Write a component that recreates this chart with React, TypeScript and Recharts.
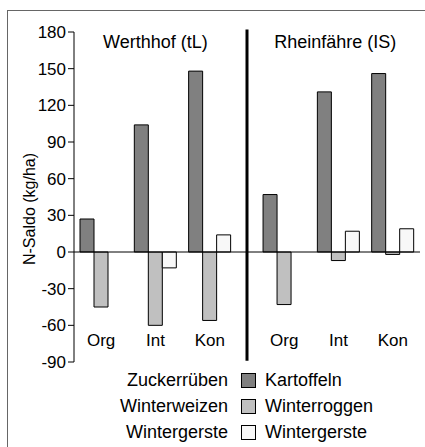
import React from 'react';
import { BarChart, Bar, XAxis, YAxis, ReferenceLine, ReferenceDot, Legend } from 'recharts';

const sites = ['Werthhof (tL)', 'Rheinfähre (IS)'];
const systems = ['Org', 'Int', 'Kon'];
const leftNames = ['Zuckerrüben', 'Winterweizen', 'Wintergerste'];
const rightNames = ['Kartoffeln', 'Winterroggen', 'Wintergerste'];
// values per bar, ordered site by site, then system (Org, Int, Kon)
const hackfrucht = [27, 104, 148, 47, 131, 146];
const winterung = [-45, -60, -56, -43, -7, -2];
const gerste: (number | null)[] = [null, -13, 14, null, 17, 19];
const yTicks = [-90, -60, -30, 0, 30, 60, 90, 120, 150, 180];

const SITE_GAP = 0.37;
const FONT = "'Liberation Sans', Arial, sans-serif";

const data = sites.flatMap((site, s) =>
  systems.map((sys, i) => {
    const k = s * systems.length + i;
    return {
      x: s * (systems.length + SITE_GAP) + i + 0.5,
      label: sys,
      site,
      hack: hackfrucht[k],
      wint: winterung[k],
      gerste: gerste[k],
    };
  })
);
const xMax = sites.length * systems.length + SITE_GAP;
const divider = systems.length + SITE_GAP / 2;

const seriesDefs = [
  { key: 'hack', name: rightNames[0], left: leftNames[0], fill: '#808080' },
  { key: 'wint', name: rightNames[1], left: leftNames[1], fill: '#c0c0c0' },
  { key: 'gerste', name: rightNames[2], left: leftNames[2], fill: '#f8f8f8' },
];

const XTick = (props: any) => {
  const { x, y, payload } = props;
  const row = data.find((d) => Math.abs(d.x - payload.value) < 1e-6);
  return (
    <text x={x} y={y - 16.5} textAnchor="middle" fontSize={17} fill="#000" fontFamily={FONT}>
      {row ? row.label : ''}
    </text>
  );
};

const YLabel = (props: any) => {
  const { viewBox } = props;
  const cx = viewBox.x + 15.5;
  const cy = viewBox.y + viewBox.height / 2 + 12;
  return (
    <text
      x={cx}
      y={cy}
      transform={`rotate(-90 ${cx} ${cy})`}
      textAnchor="middle"
      dominantBaseline="central"
      fontSize={16}
      fill="#000"
      fontFamily={FONT}
    >
      N-Saldo (kg/ha)
    </text>
  );
};

const LegendContent = (props: any) => {
  const payload: any[] = props.payload || [];
  return (
    <div style={{ fontFamily: FONT, fontSize: 18, color: '#000' }}>
      {seriesDefs.map((sd) => {
        const p = payload.find((q) => q.dataKey === sd.key) || { value: sd.name, color: sd.fill };
        return (
          <div key={sd.key} style={{ display: 'flex', alignItems: 'center', height: 26, lineHeight: '26px' }}>
            <div style={{ width: 228, textAlign: 'right', whiteSpace: 'nowrap' }}>{sd.left}</div>
            <div
              style={{
                marginLeft: 13,
                width: 15,
                height: 15,
                boxSizing: 'border-box',
                border: '1px solid #000',
                background: p.color,
              }}
            />
            <div style={{ marginLeft: 9, whiteSpace: 'nowrap' }}>{p.value}</div>
          </div>
        );
      })}
    </div>
  );
};

export default function App() {
  return (
    <div style={{ position: 'absolute', left: 0, top: 0, width: 425, height: 447, background: '#fff', overflow: 'hidden' }}>
      <div
        style={{
          position: 'absolute',
          left: 7,
          top: 10,
          right: 0,
          bottom: 0,
          borderTop: '1px solid #666',
          borderLeft: '1px solid #666',
        }}
      />
      <div style={{ position: 'absolute', left: 0, top: 0 }}>
        <BarChart
          width={425}
          height={447}
          data={data}
          margin={{ top: 32, right: 5, left: 14, bottom: 55 }}
          barGap={0}
          style={{ fontFamily: FONT }}
        >
          <XAxis
            type="number"
            dataKey="x"
            domain={[0, xMax]}
            ticks={data.map((d) => d.x)}
            interval={0}
            axisLine={false}
            tickLine={false}
            tickSize={0}
            tickMargin={0}
            height={30}
            tick={<XTick />}
          />
          <YAxis
            type="number"
            domain={[-90, 180]}
            ticks={yTicks}
            interval={0}
            width={60}
            tickSize={6}
            tickMargin={2}
            axisLine={{ stroke: '#000', strokeWidth: 1 }}
            tickLine={{ stroke: '#000', strokeWidth: 1 }}
            tick={{ fill: '#000', fontSize: 17, fontFamily: FONT }}
            label={<YLabel />}
          />
          {seriesDefs.map((sd) => (
            <Bar
              key={sd.key}
              dataKey={sd.key}
              name={sd.name}
              fill={sd.fill}
              stroke="#000"
              strokeWidth={1}
              barSize={14}
              isAnimationActive={false}
            />
          ))}
          <ReferenceLine y={0} stroke="#000" strokeWidth={1} />
          <ReferenceLine
            segment={[
              { x: divider, y: 182 },
              { x: divider, y: -89 },
            ]}
            ifOverflow="visible"
            stroke="#000"
            strokeWidth={3}
          />
          {sites.map((site, s) => (
            <ReferenceDot
              key={site}
              x={s * (systems.length + SITE_GAP) + 1.5 - (s === 1 ? 0.06 : 0)}
              y={172}
              r={0}
              fill="none"
              stroke="none"
              label={{ value: site, position: 'center', fontSize: 18, fill: '#000', fontFamily: FONT }}
            />
          ))}
          <Legend
            layout="horizontal"
            verticalAlign="middle"
            align="center"
            content={<LegendContent />}
            wrapperStyle={{ top: 367, left: 0, width: 425 }}
          />
        </BarChart>
      </div>
    </div>
  );
}
